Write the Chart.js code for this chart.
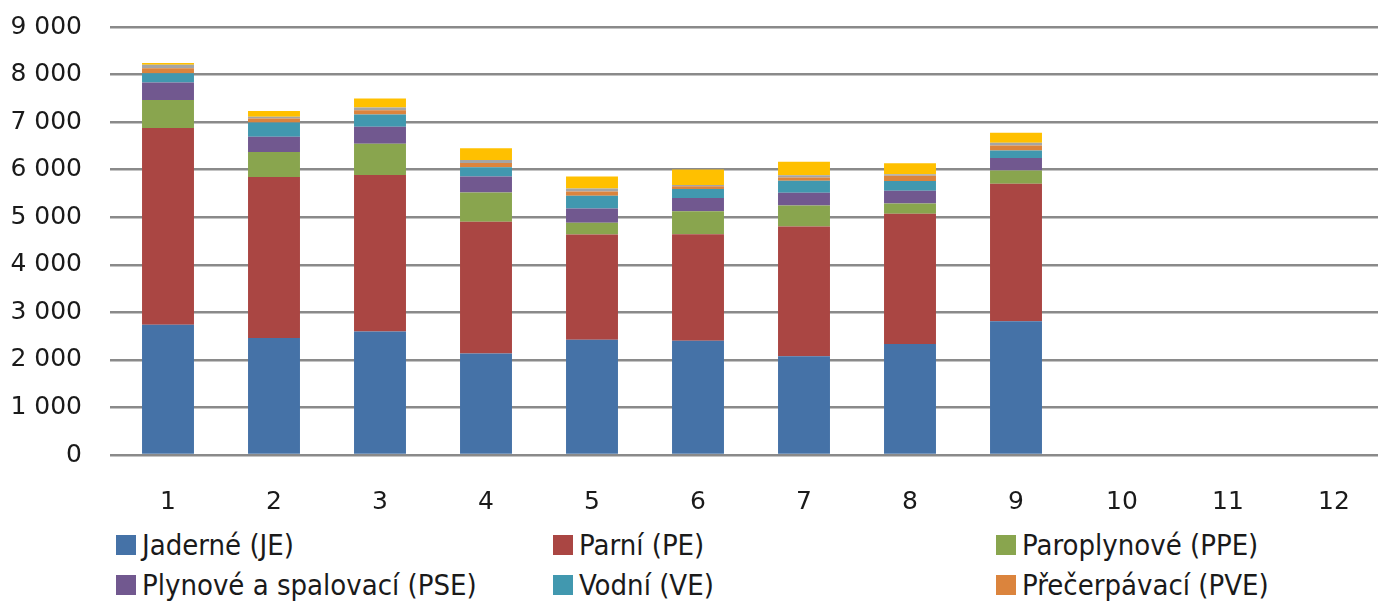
<!DOCTYPE html>
<html>
<head>
<meta charset="utf-8">
<script src="https://cdn.jsdelivr.net/npm/chart.js@4.4.1/dist/chart.umd.min.js"></script>
<style>
  html, body { margin: 0; padding: 0; background: #fff; overflow: hidden; width: 1378px; height: 603px; }
  #wrap { position: absolute; left: 0; top: -16px; width: 1387px; height: 536px; }
  #legend { position: absolute; left: 0; top: 520px; width: 1378px; height: 83px; font-family: "DejaVu Sans Condensed", "DejaVu Sans", sans-serif; font-stretch: condensed; font-size: 29px; color: #1a1a1a; }
  .li { position: absolute; display: flex; align-items: center; white-space: nowrap; height: 34px; }
  .box { width: 20px; height: 20px; margin-right: 6px; flex: none; }
</style>
</head>
<body>
<div id="wrap"><canvas id="c" width="1387" height="536"></canvas></div>
<div id="legend"></div>
<script>
const categories = ['1','2','3','4','5','6','7','8','9','10','11','12'];
const seriesNames = ['Jaderné (JE)','Parní (PE)','Paroplynové (PPE)','Plynové a spalovací (PSE)','Vodní (VE)','Přečerpávací (PVE)','Větrné (VTE)','Fotovoltaické (FVE)'];
const seriesColors = ['#4572A7','#AA4643','#89A54E','#71588F','#4198AF','#DB843D','#A5A5A5','#FFC000'];
const JE  = [2740, 2460, 2595, 2135, 2425, 2400, 2075, 2335, 2815];
const PE  = [4135, 3385, 3295, 2770, 2210, 2240, 2730, 2740, 2890];
const PPE = [590, 525, 655, 615, 250, 485, 440, 215, 275];
const PSE = [370, 320, 355, 335, 300, 280, 270, 265, 265];
const VE  = [190, 300, 260, 195, 265, 190, 250, 205, 160];
const PVE = [105, 85, 90, 90, 90, 55, 70, 110, 105];
const VTE = [75, 40, 55, 65, 65, 25, 50, 35, 55];
const FVE = [40, 120, 190, 245, 250, 330, 280, 230, 210];
const seriesValues = [JE, PE, PPE, PSE, VE, PVE, VTE, FVE];
const legendCount = 6;
const yMax = 9000, yStep = 1000;

const fontFamily = '"DejaVu Sans", sans-serif';
const datasets = seriesNames.map((n, i) => ({
  label: n,
  data: seriesValues[i],
  backgroundColor: seriesColors[i],
  borderWidth: 0,
  barPercentage: 0.49,
  categoryPercentage: 1.0
}));

new Chart(document.getElementById('c'), {
  type: 'bar',
  data: { labels: categories, datasets },
  options: {
    responsive: false,
    animation: false,
    layout: { padding: { top: 0, right: 0, left: 0, bottom: 0 } },
    plugins: { legend: { display: false }, tooltip: { enabled: false } },
    scales: {
      x: {
        stacked: true,
        grid: { display: false },
        border: { display: false },
        ticks: { color: '#1a1a1a', font: { family: fontFamily, size: 25 }, padding: 24, maxRotation: 0 },
        afterFit: s => { s.height = 65; }
      },
      y: {
        stacked: true,
        min: 0, max: yMax,
        grid: { color: '#8a8a8a', lineWidth: 2.5, tickLength: 5, drawTicks: true },
        border: { display: false },
        ticks: {
          stepSize: yStep,
          color: '#1a1a1a',
          font: { family: fontFamily, size: 25 },
          padding: 28,
          callback: v => String(v).replace(/\B(?=(\d{3})+(?!\d))/g, ' ')
        },
        afterFit: s => { s.width = 115; }
      }
    }
  }
});

const lg = document.getElementById('legend');
const colX = [116, 553, 996];
const rowY = [8, 48];
for (let i = 0; i < legendCount; i++) {
  const d = document.createElement('div');
  d.className = 'li';
  d.style.left = colX[i % 3] + 'px';
  d.style.top = rowY[Math.floor(i / 3)] + 'px';
  d.innerHTML = '<span class="box" style="background:' + seriesColors[i] + '"></span><span>' + seriesNames[i] + '</span>';
  lg.appendChild(d);
}
</script>
</body>
</html>
